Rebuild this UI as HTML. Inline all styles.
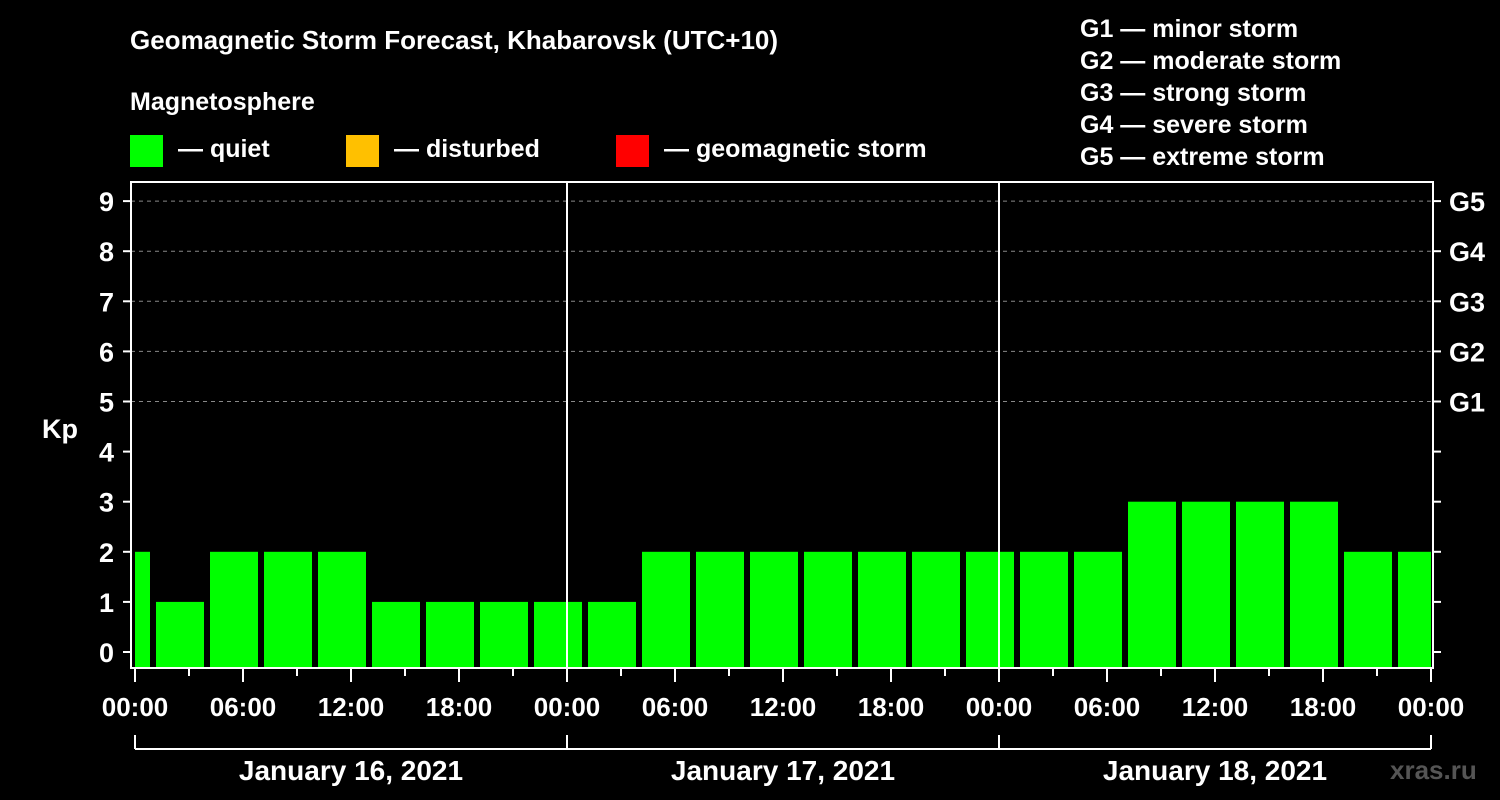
<!DOCTYPE html>
<html><head><meta charset="utf-8"><style>
html,body{margin:0;padding:0;background:#000;}
svg{display:block;font-family:"Liberation Sans",Arial,sans-serif;font-weight:bold;}
</style></head><body>
<svg id="chart" width="1500" height="800" viewBox="0 0 1500 800">
<rect width="1500" height="800" fill="#000"/>
<text x="130" y="49" fill="#fff" font-size="26">Geomagnetic Storm Forecast, Khabarovsk (UTC+10)</text>
<text x="130" y="110" fill="#fff" font-size="25">Magnetosphere</text>
<g><rect x="130" y="135" width="33" height="32" fill="#00ff00"/><text x="178" y="157" fill="#fff" font-size="25">— quiet</text></g>
<g><rect x="346" y="135" width="33" height="32" fill="#ffc000"/><text x="394" y="157" fill="#fff" font-size="25">— disturbed</text></g>
<g><rect x="616" y="135" width="33" height="32" fill="#ff0000"/><text x="664" y="157" fill="#fff" font-size="25">— geomagnetic storm</text></g>
<g fill="#fff" font-size="25">
<text x="1080" y="37">G1 — minor storm</text>
<text x="1080" y="69">G2 — moderate storm</text>
<text x="1080" y="101">G3 — strong storm</text>
<text x="1080" y="133">G4 — severe storm</text>
<text x="1080" y="165">G5 — extreme storm</text>
</g>
<text x="42" y="438" fill="#fff" font-size="27">Kp</text>
<text x="1390" y="779" fill="#555" font-size="26">xras.ru</text>
<g id="plot"></g>
</svg>
<script>
const kpValues = [2,1,2,2,2,1,1,1,1,1,2,2,2,2,2,2,2,2,2,3,3,3,3,2,2];
const yTicks = [0,1,2,3,4,5,6,7,8,9];
const gLabels = ["G1","G2","G3","G4","G5"];
const gLevels = [5,6,7,8,9];
const xTickLabels = ["00:00","06:00","12:00","18:00","00:00","06:00","12:00","18:00","00:00","06:00","12:00","18:00","00:00"];
const dayLabels = ["January 16, 2021","January 17, 2021","January 18, 2021"];
const firstBarStartHour = -2;
const barHours = 3;

const NS="http://www.w3.org/2000/svg";
const g=document.getElementById('plot');
const X0=135, PXH=18, LEFT=131, RIGHT=1433, TOP=182, BOT=668;
const xs=h=>X0+h*PXH;
const ys=v=>652-v*50.1;
function el(t,a){const e=document.createElementNS(NS,t);for(const k in a)e.setAttribute(k,a[k]);g.appendChild(e);return e;}
// grid
gLevels.forEach((v,i)=>{
  const l=el('line',{x1:LEFT,x2:RIGHT,y1:ys(v),y2:ys(v),stroke:'#888','stroke-dasharray':'4,4','stroke-width':1});
  
  
  const t=el('text',{x:1449,y:ys(v)+10,fill:'#fff','font-size':27});
  t.textContent=gLabels[i];
  
  
});
// bars
const cp=el('clipPath',{id:'cp'});
const cr=document.createElementNS(NS,'rect');cr.setAttribute('x',X0);cr.setAttribute('y',TOP);cr.setAttribute('width',xs(72)-X0);cr.setAttribute('height',BOT-TOP);cp.appendChild(cr);
kpValues.forEach((v,i)=>{
  const h=firstBarStartHour+i*barHours;
  const col=v>=5?'#ff0000':(v>=4?'#ffc000':'#00ff00');
  const r=el('rect',{x:xs(h)+3,y:ys(v),width:barHours*PXH-6,height:BOT-ys(v),fill:col,'clip-path':'url(#cp)'});
  
  
});
// day separators
[1,2].forEach(d=>{
  const l=el('line',{x1:xs(24*d),x2:xs(24*d),y1:TOP,y2:BOT,stroke:'#fff','stroke-width':2});
  
  
});
// frame
const fr=el('rect',{x:LEFT,y:TOP,width:RIGHT-LEFT,height:BOT-TOP,fill:'none',stroke:'#fff','stroke-width':2});


// y ticks
yTicks.forEach(v=>{
  el('line',{x1:LEFT-8,x2:LEFT,y1:ys(v),y2:ys(v),stroke:'#fff','stroke-width':2});
  el('line',{x1:RIGHT,x2:RIGHT+8,y1:ys(v),y2:ys(v),stroke:'#fff','stroke-width':2});
  const t=el('text',{x:114,y:ys(v)+10,fill:'#fff','font-size':27,'text-anchor':'end'});
  t.textContent=v;
  
  
});
// x ticks
for(let h=0;h<=72;h+=3){
  const major=h%6===0;
  el('line',{x1:xs(h),x2:xs(h),y1:BOT,y2:BOT+(major?14:8),stroke:'#fff','stroke-width':2});
}
xTickLabels.forEach((s,i)=>{
  const t=el('text',{x:xs(i*6),y:716,fill:'#fff','font-size':26,'text-anchor':'middle'});
  t.textContent=s;
  
  
});
// day brackets
el('line',{x1:xs(0),x2:xs(72),y1:749,y2:749,stroke:'#fff','stroke-width':2});
for(let d=0;d<=3;d++) el('line',{x1:xs(24*d),x2:xs(24*d),y1:735,y2:749,stroke:'#fff','stroke-width':2});
dayLabels.forEach((s,i)=>{
  const t=el('text',{x:xs(24*i+12),y:780,fill:'#fff','font-size':28,'text-anchor':'middle'});
  t.textContent=s;
  
  
});
</script>
</body></html>
